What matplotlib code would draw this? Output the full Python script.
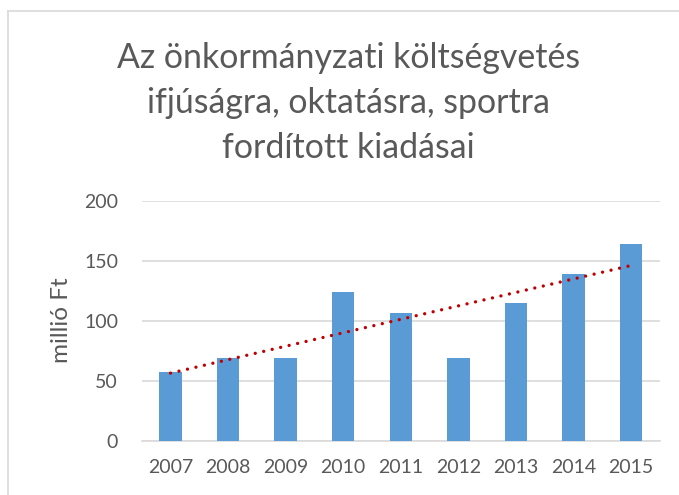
import matplotlib
matplotlib.use("Agg")
import matplotlib.pyplot as plt
import numpy as np

# data
years = ['2007', '2008', '2009', '2010', '2011', '2012', '2013', '2014', '2015']
spending = [57.5, 68.6, 68.6, 124.2, 106.4, 68.6, 114.5, 139.2, 163.9]
y_ticks = [0, 50, 100, 150, 200]

title = 'Az önkormányzati költségvetés\nifjúságra, oktatásra, sportra\nfordított kiadásai'
y_label = 'millió Ft'

plt.rcParams['font.family'] = ['Lato', 'DejaVu Sans']
text_color = '#595959'

fig = plt.figure(figsize=(6.79, 4.95), dpi=100)
ax = fig.add_axes([0.2087, 0.1097, 0.7633, 0.4843])

x = np.arange(len(years))
ax.bar(x, spending, width=0.39, color='#5B9BD5', zorder=3)

# linear trend line (least squares, like Excel)
slope, intercept = np.polyfit(x, spending, 1)
trend = slope * x + intercept
ax.plot(x, trend, color='#C00000', linewidth=2.4, linestyle=(0, (0.01, 2.6)),
        dash_capstyle='round', zorder=4)

ax.set_xlim(-0.5, len(years) - 0.5)
ax.set_ylim(0, 200)
ax.set_yticks(y_ticks)
ax.set_xticks(x)
ax.set_xticklabels(years)
ax.yaxis.grid(True, color='#D9D9D9', linewidth=1.2, zorder=0)
ax.set_axisbelow(True)
for side in ['top', 'right', 'left']:
    ax.spines[side].set_visible(False)
ax.spines['bottom'].set_color('#D9D9D9')
ax.spines['bottom'].set_linewidth(1.2)
ax.tick_params(axis='both', length=0, labelsize=14, colors=text_color)
ax.tick_params(axis='y', pad=17)
ax.tick_params(axis='x', pad=13)

fig.text(62 / 679, 1 - 320 / 495, y_label, rotation=90, ha='center', va='center',
         fontsize=17.5, color=text_color)

fig.text(348.5 / 679, 1 - 103 / 495, title, ha='center', va='center',
         fontsize=24.4, color=text_color, linespacing=1.5)

# outer chart border (top and left only visible)
fig.add_artist(plt.Line2D([8 / 679, 8 / 679], [0, 1 - 11 / 495], color='#D9D9D9', linewidth=1.2))
fig.add_artist(plt.Line2D([8 / 679, 1], [1 - 11 / 495, 1 - 11 / 495], color='#D9D9D9', linewidth=1.2))

fig.savefig('out.png', dpi=100)
